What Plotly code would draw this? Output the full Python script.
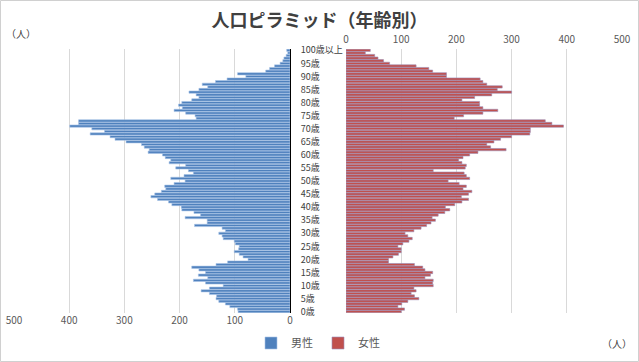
import plotly.graph_objects as go

ages = list(range(101))

male = [94, 95, 109, 117, 129, 134, 133, 146, 161, 146,
        121, 153, 175, 149, 166, 153, 165, 178, 134, 113,
        76, 85, 92, 101, 93, 92, 99, 101, 121, 123,
        129, 117, 123, 173, 150, 150, 190, 162, 174, 196,
        197, 214, 220, 240, 252, 245, 233, 225, 227, 210,
        190, 216, 192, 175, 184, 207, 189, 219, 216, 226,
        231, 257, 255, 264, 269, 297, 317, 326, 362, 336,
        359, 399, 383, 383, 170, 172, 189, 210, 195, 202,
        196, 178, 165, 170, 183, 165, 149, 159, 135, 114,
        80, 95, 44, 37, 28, 18, 13, 11, 7, 4,
        6]

female = [100, 106, 94, 101, 112, 132, 124, 118, 127, 123,
          158, 157, 158, 143, 153, 157, 143, 139, 124, 77,
          77, 85, 95, 100, 100, 94, 103, 114, 120, 112,
          107, 123, 136, 146, 154, 162, 156, 167, 179, 188,
          180, 197, 210, 222, 209, 222, 228, 212, 218, 205,
          185, 224, 218, 214, 158, 216, 218, 210, 204, 212,
          224, 239, 290, 262, 255, 268, 280, 300, 333, 334,
          334, 394, 373, 361, 196, 213, 248, 275, 248, 242,
          242, 210, 233, 264, 300, 274, 283, 255, 248, 243,
          182, 182, 157, 150, 127, 79, 68, 58, 52, 35,
          44]

age_tick_vals = list(range(0, 101, 5))
age_tick_text = [f"{a}歳" for a in range(0, 100, 5)] + ["100歳以上"]
x_ticks = [0, 100, 200, 300, 400, 500]

FONT = "Noto Sans CJK JP, Noto Sans, sans-serif"

fig = go.Figure()
fig.add_bar(x=male, y=ages, orientation="h", name="男性", xaxis="x", yaxis="y",
            marker=dict(color="#4f81bd", line=dict(color="#a9c4e8", width=0.6)))
fig.add_bar(x=female, y=ages, orientation="h", name="女性", xaxis="x2", yaxis="y2",
            marker=dict(color="#c0504d", line=dict(color="#9a8fb8", width=0.6)))

W, H = 639, 362
ml, mr, mt, mb = 14, 17, 49, 49
pw = W - ml - mr
ph = H - mt - mb

def px(x):
    return (x - ml) / pw

def py(y):
    return (H - mb - y) / ph

fig.update_layout(
    width=W, height=H,
    margin=dict(l=ml, r=mr, t=mt, b=mb, autoexpand=False),
    paper_bgcolor="white", plot_bgcolor="white",
    font=dict(family=FONT, color="#595959", size=10),
    bargap=0.12,
    showlegend=True,
    title=dict(text="<b>人口ピラミッド（年齢別）</b>", x=0.5, xref="container",
               y=1 - 21 / H, yref="container", yanchor="middle",
               font=dict(size=18, color="#404040", family=FONT)),
    legend=dict(orientation="h", x=0.5, xanchor="center", y=py(343), yanchor="middle",
                font=dict(size=11, color="#595959"), itemwidth=30,
                bgcolor="rgba(0,0,0,0)", traceorder="normal"),
    xaxis=dict(domain=[0, px(290)], range=[500, 0], tickvals=x_ticks, side="bottom",
               anchor="y", showgrid=True, gridcolor="#d9d9d9", zeroline=False,
               showline=False, ticks="", tickfont=dict(size=10, color="#595959"),
               automargin=False, fixedrange=True),
    yaxis=dict(range=[-0.5, 100.5], side="right", anchor="x", tickvals=age_tick_vals,
               ticktext=age_tick_text, ticks="outside", ticklen=8,
               tickcolor="rgba(0,0,0,0)", showline=True, linecolor="#000000",
               linewidth=1, showgrid=False, zeroline=False, automargin=False,
               tickfont=dict(size=9, color="#404040")),
    xaxis2=dict(domain=[px(346), 1], range=[0, 500], tickvals=x_ticks, side="top",
                anchor="y2", showgrid=True, gridcolor="#d9d9d9", zeroline=False,
                showline=False, ticks="", automargin=False, ticklabelstandoff=3,
                tickfont=dict(size=10, color="#595959")),
    yaxis2=dict(range=[-0.5, 100.5], anchor="x2", matches="y", showticklabels=False,
                showgrid=False, zeroline=False, showline=False, automargin=False),
    annotations=[
        dict(text="（人）", x=px(4), y=py(33), xref="paper", yref="paper",
             xanchor="left", yanchor="middle", showarrow=False,
             font=dict(size=10, color="#404040")),
        dict(text="（人）", x=px(634), y=py(343), xref="paper", yref="paper",
             xanchor="right", yanchor="middle", showarrow=False,
             font=dict(size=10, color="#404040")),
    ],
    shapes=[
        dict(type="rect", xref="paper", yref="paper",
             x0=px(0.5), x1=px(638.5), y0=py(361.5), y1=py(0.5),
             line=dict(color="#d0d0d0", width=1), fillcolor="rgba(0,0,0,0)", layer="below"),
    ],
)

fig.write_html("out.html", config={"displayModeBar": False},
               post_script="document.body.style.margin='0';document.body.style.overflow='hidden';")
